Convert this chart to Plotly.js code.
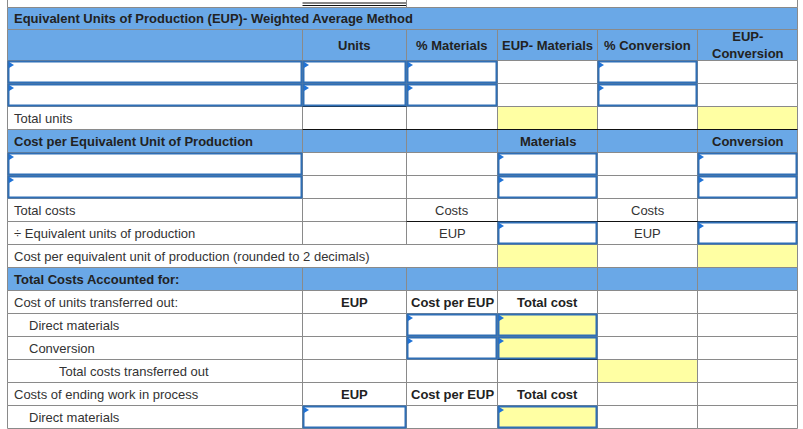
<!DOCTYPE html>
<html>
<head>
<meta charset="utf-8">
<script src="https://cdn.plot.ly/plotly-3.0.1.min.js"></script>
<style>
  body { margin: 0; background: #fff; }
  #graph { width: 803px; height: 429px; }
</style>
</head>
<body>
<div id="graph"></div>
<script>
// worksheet content
var rowLabels = [
  'Equivalent Units of Production (EUP)- Weighted Average Method',
  '', '', '',
  'Total units',
  'Cost per Equivalent Unit of Production',
  '', '',
  'Total costs',
  '÷ Equivalent units of production',
  'Cost per equivalent unit of production (rounded to 2 decimals)',
  'Total Costs Accounted for:',
  'Cost of units transferred out:',
  'Direct materials',
  'Conversion',
  'Total costs transferred out',
  'Costs of ending work in process',
  'Direct materials'
];
var rowIndent = [0,0,0,0,0,0,0,0,0,0,0,0,0,1,1,2,0,1];
var boldLabelRows = [0,5,11];
var boldCellRows = [1,5,12,16];

// p plain, i input, y yellow, Y input+yellow, b blue, s spanned
var cellKinds = [
  'bsssss', 'bbbbbb', 'iiipip', 'iiipip', 'pppypy', 'bbbbbb',
  'ippipi', 'ippipi', 'pppppp', 'pppipi', 'pssypy', 'bbbbbb',
  'pppppp', 'ppiYpp', 'ppiYpp', 'ppppyp', 'pppppp', 'pipYpp'
];

var colHeads = ['', 'Units', '% Materials', 'EUP- Materials', '% Conversion', 'EUP-<br>Conversion'];
var costHeads = ['', '', '', 'Materials', '', 'Conversion'];
var costRow = ['', '', 'Costs', '', 'Costs', ''];
var eupRow = ['', '', 'EUP', '', 'EUP', ''];
var accountHeads = ['', 'EUP', 'Cost per EUP', 'Total cost', '', ''];
var cellText = {1: colHeads, 5: costHeads, 8: costRow, 9: eupRow, 12: accountHeads, 16: accountHeads};

// layout geometry
var colEdges = [7.5, 302.5, 406.5, 497.5, 597.5, 697.5, 797.5];
var rowHeights = [22, 31, 23, 23, 23, 23, 23, 23, 23, 23, 23, 23, 23, 23, 23, 23, 23, 23];
var rowEdges = [7.5];
rowHeights.forEach(function(h, i) { rowEdges.push(rowEdges[i] + h); });
var indentX = [11.5, 26.5, 56.5];

var BLUE = '#6aa8e7', YELLOW = '#ffffa3', GRID = '#8a8a8a', INPUT = '#2f6fb6', TRI = '#1f72d6';
var FONT = 'Liberation Sans, Arial, sans-serif';

var fills = [], grid = [], inputs = [], marks = [];
var annotations = [];

cellKinds.forEach(function(kinds, r) {
  var y0 = rowEdges[r], y1 = rowEdges[r + 1];
  for (var c = 0; c < 6; c++) {
    var k = kinds[c];
    if (k === 's') continue;
    var end = c + 1;
    while (end < 6 && kinds[end] === 's') end++;
    var x0 = colEdges[c], x1 = colEdges[end];
    var fill = k === 'b' ? BLUE : (k === 'y' || k === 'Y') ? YELLOW : '#ffffff';
    fills.push({type: 'rect', xref: 'x', yref: 'y', x0: x0, x1: x1, y0: y0, y1: y1,
      fillcolor: fill, line: {width: 0}, layer: 'below'});
    grid.push({type: 'rect', xref: 'x', yref: 'y', x0: x0, x1: x1, y0: y0, y1: y1,
      fillcolor: 'rgba(0,0,0,0)', line: {color: GRID, width: 1}});
    if (k === 'i' || k === 'Y') {
      inputs.push({type: 'rect', xref: 'x', yref: 'y', x0: x0 + 1, x1: x1 - 1, y0: y0 + 1, y1: y1 - 1,
        fillcolor: 'rgba(0,0,0,0)', line: {color: INPUT, width: 2}});
      var tx = x0 + 1.5, ty = y0 + 1.5;
      marks.push({type: 'path', xref: 'x', yref: 'y',
        path: 'M' + tx + ',' + ty + ' L' + (tx + 5) + ',' + (ty + 3) + ' L' + tx + ',' + (ty + 6) + ' Z',
        fillcolor: TRI, line: {width: 0}});
    }
  }
  var yc = (y0 + y1) / 2;
  if (rowLabels[r]) {
    var lb = boldLabelRows.indexOf(r) >= 0;
    annotations.push({xref: 'x', yref: 'y', x: indentX[rowIndent[r]], y: yc,
      xanchor: 'left', yanchor: 'middle', showarrow: false,
      text: lb ? '<b>' + rowLabels[r] + '</b>' : rowLabels[r],
      font: {family: FONT, size: 13, color: lb ? '#222' : '#333'}});
  }
  var texts = cellText[r];
  if (texts) {
    var cb = boldCellRows.indexOf(r) >= 0;
    texts.forEach(function(t, c) {
      if (!t) return;
      annotations.push({xref: 'x', yref: 'y', x: (colEdges[c] + colEdges[c + 1]) / 2, y: yc,
        xanchor: 'center', yanchor: 'middle', showarrow: false,
        text: cb ? '<b>' + t + '</b>' : t,
        font: {family: FONT, size: 13, color: cb ? '#222' : '#333'}});
    });
  }
});

// dark rules and the stub above the table
function hline(y, xa, xb, color) {
  return {type: 'line', xref: 'x', yref: 'y', x0: xa, x1: xb, y0: y, y1: y, line: {color: color, width: 1}};
}
function vline(x, ya, yb, color) {
  return {type: 'line', xref: 'x', yref: 'y', x0: x, x1: x, y0: ya, y1: yb, line: {color: color, width: 1}};
}
var rules = [
  hline(3, colEdges[1], colEdges[2], '#111'),
  hline(5.5, colEdges[1], colEdges[2], '#111'),
  vline(colEdges[0], 0, rowEdges[0], GRID),
  vline(colEdges[2], 0, rowEdges[0], GRID),
  vline(colEdges[6], 0, rowEdges[0], GRID),
  hline(rowEdges[4], colEdges[1], colEdges[2], '#111'),
  hline(rowEdges[5], colEdges[1], colEdges[6], '#111'),
  hline(rowEdges[9], colEdges[2], colEdges[6], '#111'),
  hline(rowEdges[15], colEdges[3], colEdges[4], '#111')
];

var layout = {
  width: 803, height: 429,
  margin: {l: 0, r: 0, t: 0, b: 0},
  paper_bgcolor: '#fff', plot_bgcolor: '#fff',
  xaxis: {range: [0, 803], visible: false, fixedrange: true},
  yaxis: {range: [429, 0], visible: false, fixedrange: true},
  shapes: fills.concat(grid, rules, inputs, marks),
  annotations: annotations,
  showlegend: false
};

Plotly.newPlot('graph', [], layout, {displayModeBar: false, staticPlot: true});
</script>
</body>
</html>
